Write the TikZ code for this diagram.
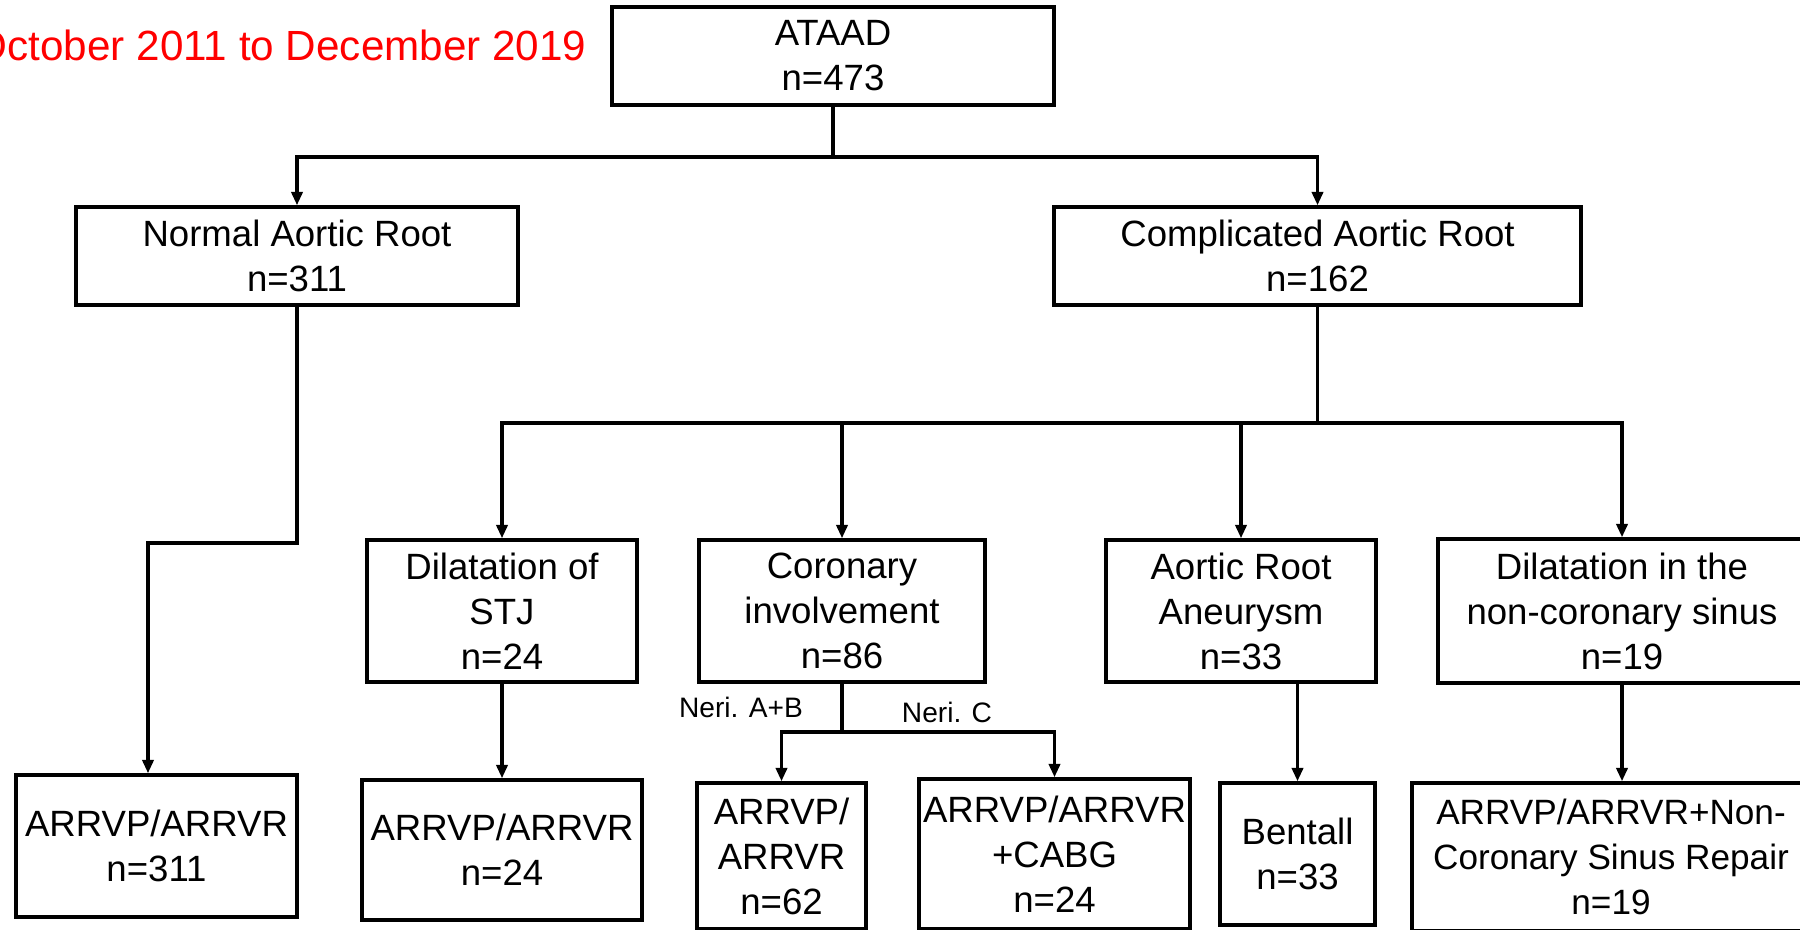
\documentclass[tikz,border=0pt]{standalone}
\usepackage{fontspec}
\setmainfont{Liberation Sans}
\usetikzlibrary{arrows.meta}

\tikzset{
    box/.style={draw, line width=1pt, align=center, inner sep=0pt,
        font=\fontsize{10.4}{12.8}\selectfont},
    arr/.style={line width=0.9pt, -{Triangle[width=3.2pt,length=3.8pt]}},
    link/.style={line width=0.9pt},
    branch/.style={font=\fontsize{8}{9.6}\selectfont}
}

\begin{document}
\begin{tikzpicture}[x=0.01cm, y=-0.01cm]
    \useasboundingbox (0,0) rectangle (1800,929);

    % Title
    \node[red, anchor=base east, inner sep=0pt, font=\fontsize{12}{14}\selectfont] (period) at (587,60) {October 2011 to December 2019};

    % First level
    \node[box, minimum width=4.42cm, minimum height=0.98cm] (ataad) at (833,56) {ATAAD\\n=473};
    \node[box, minimum width=4.42cm, minimum height=0.98cm] (normal) at (297,256) {Normal Aortic Root\\n=311};
    \node[box, minimum width=5.27cm, minimum height=0.98cm] (compl) at (1317.5,256) {Complicated Aortic Root\\n=162};

    % Second level
    \node[box, minimum width=2.70cm, minimum height=1.42cm] (stj) at (502,611) {Dilatation of\\STJ\\n=24};
    \node[box, minimum width=2.86cm, minimum height=1.42cm] (coron) at (842,611) {Coronary\\involvement\\n=86};
    \node[box, minimum width=2.70cm, minimum height=1.42cm] (aneur) at (1241,611) {Aortic Root\\Aneurysm\\n=33};
    \node[box, minimum width=3.68cm, minimum height=1.44cm] (noncor) at (1622,611) {Dilatation in the\\non-coronary sinus\\n=19};

    % Operations
    \node[box, minimum width=2.81cm, minimum height=1.42cm] (op1) at (156.5,846) {ARRVP/ARRVR\\n=311};
    \node[box, minimum width=2.80cm, minimum height=1.40cm] (op2) at (502,850) {ARRVP/ARRVR\\n=24};
    \node[box, minimum width=1.69cm, minimum height=1.46cm] (op3) at (781.5,856) {ARRVP/\\ARRVR\\n=62};
    \node[box, minimum width=2.71cm, minimum height=1.50cm] (op4) at (1054.5,854) {ARRVP/ARRVR\\+CABG\\n=24};
    \node[box, minimum width=1.55cm, minimum height=1.42cm] (op5) at (1297.5,854) {Bentall\\n=33};
    \node[box, minimum width=3.98cm, minimum height=1.48cm, font=\fontsize{10}{12.8}\selectfont] (op6) at (1611,857) {ARRVP/ARRVR+Non-\\Coronary Sinus Repair\\n=19};

    % Branch labels
    \node[branch] (nab) at (741,707) {Neri. A+B};
    \node[branch] (nc) at (947,712) {Neri. C};

    % Connectors
    \coordinate (split1) at (833,157);
    \draw[link] (ataad) -- (split1);
    \foreach \n in {normal,compl}
        \draw[arr] (split1) -| (\n);

    \coordinate (bend1) at (297,543);
    \coordinate (bend2) at (148,543);
    \draw[arr] (normal) -- (bend1) -- (bend2) -- (bend2 |- op1.north);

    \coordinate (split2) at (1317.5,423);
    \draw[link] (compl) -- (split2);
    \foreach \n in {stj,coron,aneur,noncor}
        \draw[arr] (split2) -| (\n);

    \draw[arr] (stj) -- (op2);

    \coordinate (split3) at (842,732);
    \draw[link] (coron) -- (split3);
    \foreach \n in {op3,op4}
        \draw[arr] (split3) -| (\n);

    \draw[arr] (aneur.south -| op5.north) -- (op5);
    \draw[arr] (noncor.south) -- (noncor.south |- op6.north);
\end{tikzpicture}
\end{document}
